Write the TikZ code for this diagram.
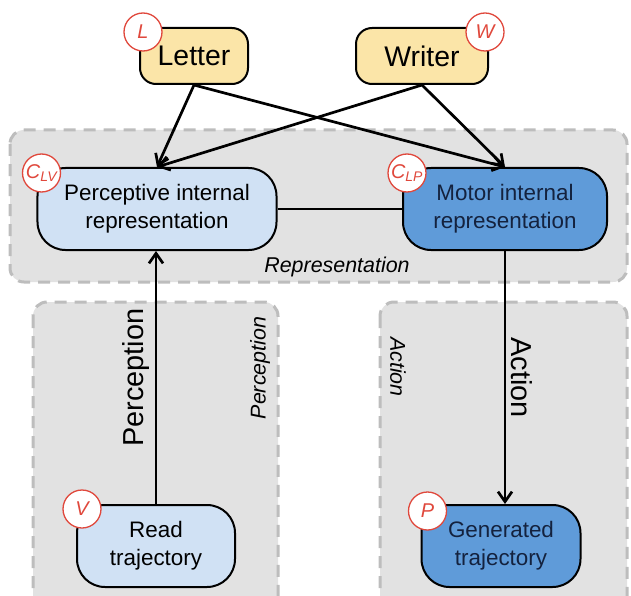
\documentclass[tikz,border=0pt]{standalone}
\usepackage{fontspec}
\setmainfont{Liberation Sans}
\usetikzlibrary{arrows.meta,positioning}
\definecolor{sourcefill}{HTML}{FBE5A8}
\definecolor{percfill}{HTML}{D0E1F4}
\definecolor{motorfill}{HTML}{5F9BD9}
\definecolor{motortext}{HTML}{14223E}
\definecolor{tagred}{HTML}{E0483C}
\definecolor{areafill}{HTML}{E2E2E2}
\definecolor{areadash}{HTML}{BDBDBD}

\begin{document}
\begin{tikzpicture}[x=1bp,y=-1bp,
   box/.style={draw,line width=2bp,rounded corners=28bp,align=center,
      inner sep=0pt,minimum height=82bp,font=\fontsize{22.5}{28}\selectfont},
   source/.style={box,fill=sourcefill,rounded corners=16bp,minimum height=56bp,
      font=\fontsize{28.5}{32}\selectfont},
   perc/.style={box,fill=percfill},
   motor/.style={box,fill=motorfill,text=motortext},
   tag/.style={circle,draw=tagred,line width=1.3bp,fill=white,minimum size=38bp,
      inner sep=0pt,text=tagred,font=\fontsize{20}{20}\selectfont\itshape},
   area/.style={fill=areafill,draw=areadash,line width=3bp,
      dash pattern=on 12bp off 8bp,rounded corners=14bp},
   link/.style={line width=2.7bp,-{Straight Barb[length=10bp,width=14bp]}},
   arealabel/.style={font=\fontsize{21.5}{21.5}\selectfont\itshape},
   flowlabel/.style={font=\fontsize{29}{29}\selectfont,anchor=south,inner sep=5bp}]
   \useasboundingbox (0,0) rectangle (631,596);
   \clip (0,0) rectangle (631,596);
   % grey areas
   \draw[area] (10,130) rectangle (627,282);
   \draw[area] (33,302) rectangle (278,620);
   \draw[area] (380,302) rectangle (627,620);
   \node[arealabel] (replabel) at (337,267) {Representation};
   \node[arealabel,rotate=90] (perclabel) at (260,368) {Perception};
   \node[arealabel,rotate=-90] (actlabel) at (398,367) {Action};
   % nodes
   \node[source,minimum width=108bp] (letter) at (194,56) {Letter};
   \node[source,minimum width=132bp] (writer) at (422,56) {Writer};
   \node[perc,minimum width=239bp] (percrep) at (157,209) {Perceptive internal\\representation};
   \node[motor,minimum width=204bp] (motorrep) at (505,209) {Motor internal\\representation};
   \node[perc,minimum width=158bp] (read) at (156,546) {Read\\trajectory};
   \node[motor,minimum width=159bp] (gen) at (501,546) {Generated\\trajectory};
   % edges
   \draw[link] (letter.south) -- (percrep.north);
   \draw[link] (letter.south) -- (motorrep.north);
   \draw[link] (writer.south) -- (percrep.north);
   \draw[link] (writer.south) -- (motorrep.north);
   \draw[line width=2.7bp] (percrep) -- (motorrep);
   \draw[link] (read.north) -- node[flowlabel,midway,rotate=90] {Perception} (read.north |- percrep.south);
   \draw[link] (motorrep.south) -- node[flowlabel,midway,rotate=-90] {Action} (motorrep.south |- gen.north);
   % variable tags
   \node[tag] (tagL) at ([shift={(4,5)}]letter.north west) {L};
   \node[tag] (tagW) at ([shift={(-4,5)}]writer.north east) {W};
   \node[tag] (tagCLV) at ([shift={(5,6)}]percrep.north west) {C\textsubscript{LV}};
   \node[tag] (tagCLP) at ([shift={(5,6)}]motorrep.north west) {C\textsubscript{LP}};
   \node[tag] (tagV) at ([shift={(6,5)}]read.north west) {V};
   \node[tag] (tagP) at ([shift={(7,7)}]gen.north west) {P};
\end{tikzpicture}
\end{document}
